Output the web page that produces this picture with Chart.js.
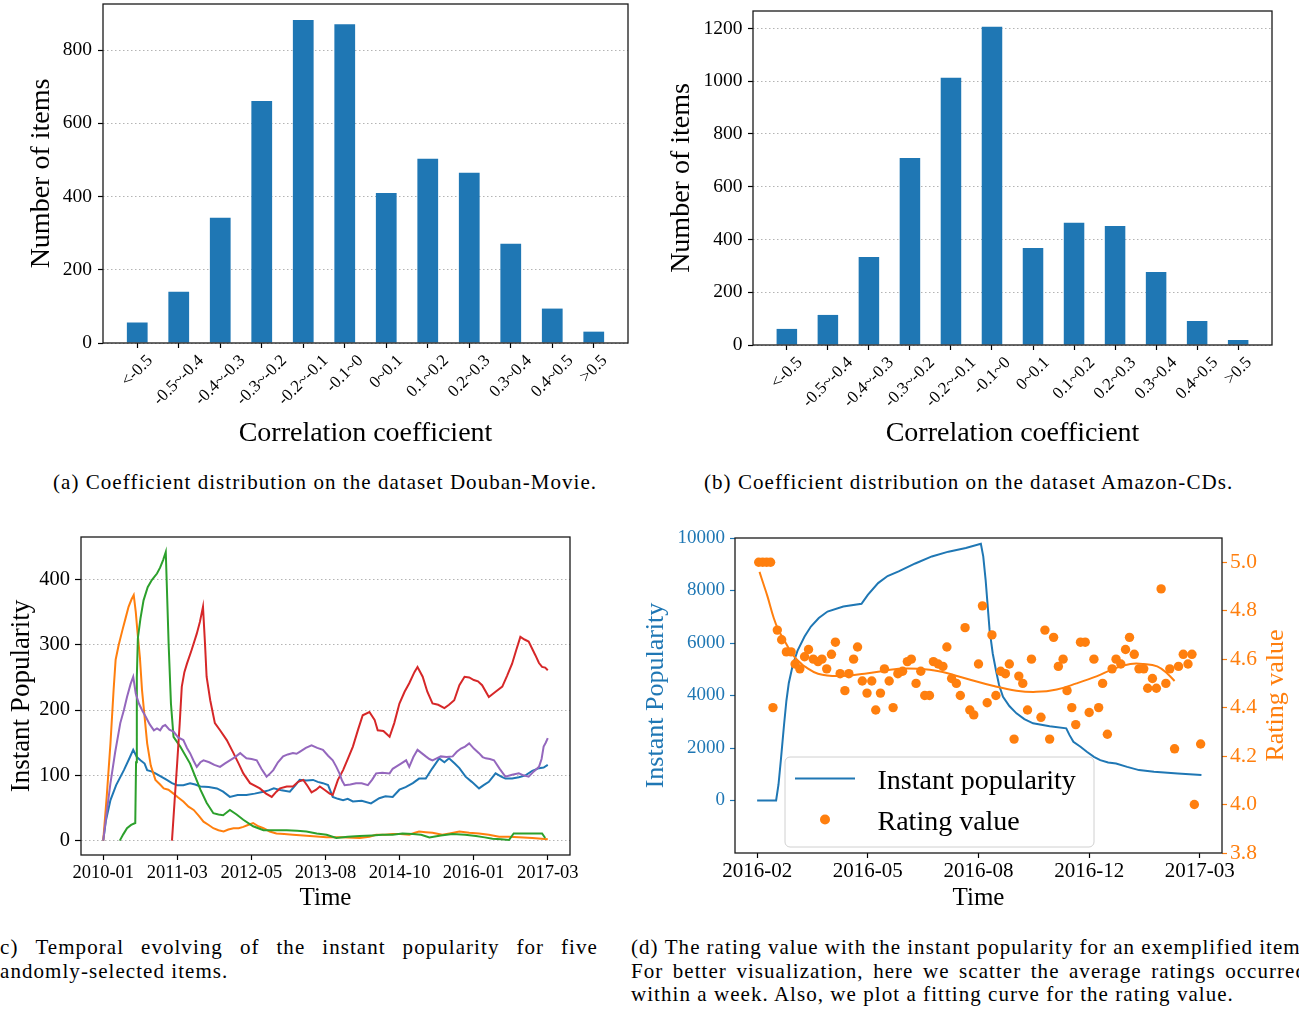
<!DOCTYPE html>
<html>
<head>
<meta charset="utf-8">
<title>Coefficient distribution and instant popularity</title>
<script src="https://cdn.jsdelivr.net/npm/chart.js@4.4.1/dist/chart.umd.min.js"></script>
<style>
  html, body { margin: 0; padding: 0; background: #fff; }
  body { position: relative; width: 1299px; height: 1011px; overflow: hidden;
         font-family: 'Liberation Serif', 'Times New Roman', serif; color: #000; }
  .panel { position: absolute; }
  .panel canvas { display: block; }
  .cap { position: absolute; font-size: 21px; line-height: 23.5px; letter-spacing: 1.05px; white-space: nowrap; }
  .jrow { display: flex; justify-content: space-between; }
</style>
</head>
<body>
<div class="panel" style="left:0;top:0"><canvas id="chartA" width="650" height="460"></canvas></div>
<div class="panel" style="left:650px;top:0"><canvas id="chartB" width="649" height="460"></canvas></div>
<div class="panel" style="left:0;top:500px"><canvas id="chartC" width="640" height="420"></canvas></div>
<div class="panel" style="left:640px;top:500px"><canvas id="chartD" width="659" height="420"></canvas></div>

<div class="cap" style="left:53px;top:471px">(a) Coefficient distribution on the dataset Douban-Movie.</div>
<div class="cap" style="left:704px;top:471px">(b) Coefficient distribution on the dataset Amazon-CDs.</div>
<div class="cap" id="capC" style="left:-8px;top:936px;width:606px"></div>
<div class="cap" id="capD" style="left:631px;top:936px;width:676px"></div>

<script>
const FONT = "'Liberation Serif', 'Times New Roman', serif";
const BLUE = '#1f77b4', ORANGE = '#ff7f0e', GREEN = '#2ca02c', RED = '#d62728', PURPLE = '#9467bd';

// (a), (b) histogram data
const binLabels = ['<-0.5', '-0.5~-0.4', '-0.4~-0.3', '-0.3~-0.2', '-0.2~-0.1', '-0.1~0',
                   '0~0.1', '0.1~0.2', '0.2~0.3', '0.3~0.4', '0.4~0.5', '>0.5'];
const doubanCounts = [56, 140, 342, 661, 882, 871, 410, 503, 465, 271, 94, 31];
const amazonCounts = [61, 114, 334, 709, 1013, 1206, 368, 463, 451, 277, 91, 19];
const doubanTicks = [0, 200, 400, 600, 800];
const amazonTicks = [0, 200, 400, 600, 800, 1000, 1200];

// (c) instant popularity of five items, [month since 2010-01, popularity]
const popTickLabels = ['2010-01', '2011-03', '2012-05', '2013-08', '2014-10', '2016-01', '2017-03'];
const popTicks = [0, 100, 200, 300, 400];
const item1 = [[0,0],[0.5,30],[1.4,62],[2.5,85],[4,108],[5,125],[5.8,139],[6.5,128],[7.2,123],[8,118],[8.5,108],[9.3,106],[10.1,103],[11.2,98],[12.3,93],[13.3,88],[14.3,85],[15.5,85],[16.8,88],[17.8,86],[18.8,83],[20.4,82],[22,80],[23.2,75],[24.5,67],[26,70],[27.7,70],[29.3,72],[31,75],[32,77],[33,80],[34.5,77],[36.1,75],[37.2,85],[38,93],[39.3,92],[40.6,93],[41.5,90],[42.5,88],[43.5,85],[44.4,67],[45.4,64],[46.4,62],[47.3,64],[48.3,60],[50,61],[51.8,57],[53.4,65],[54.6,68],[56,67],[57.3,78],[58.5,82],[59.9,88],[61.1,95],[62.4,95],[63.6,110],[65,126],[66,120],[66.9,126],[68,118],[68.9,111],[70.1,98],[71.3,90],[72.7,80],[73.6,85],[74.6,90],[75.9,103],[77,98],[77.8,95],[79.1,95],[80.4,97],[81.7,100],[83,107],[84.3,111],[85.2,112],[86,116]];
const item2 = [[0,0],[0.7,70],[1.4,149],[2,230],[2.4,277],[3,300],[3.7,322],[4.3,340],[4.9,358],[5.5,370],[5.9,376],[6.3,350],[6.6,322],[7.1,280],[7.5,231],[8,190],[8.5,149],[9.2,115],[10.1,93],[11,86],[11.7,80],[12.6,78],[13.6,72],[14.5,66],[15.5,60],[16.5,52],[17.5,47],[18.5,38],[19.4,29],[20.4,24],[21.3,19],[22.3,16],[23.3,14],[24.2,17],[25.2,19],[26.2,19],[27.1,21],[28,24],[29,27],[30,22],[31,19],[32.2,14],[33.5,11],[35,10],[36.7,9],[40,7],[43.2,5],[46,5],[49.6,4],[51.5,6],[52.8,9],[54.5,9],[56,10],[57.5,10],[59.2,9],[60.3,12],[61.1,14],[62.4,13],[63.7,12],[65.6,9],[67,11],[68.9,14],[70.8,12],[72.7,11],[74.6,9],[76.6,6],[78.5,6],[80.4,5],[83,4],[86,2]];
const item3 = [[3.2,0],[3.9,10],[4.6,19],[5.4,24],[6.2,27],[6.35,120],[6.5,250],[6.7,310],[7.2,340],[7.8,368],[8.6,388],[9.4,399],[10.4,409],[11,418],[11.6,430],[12.1,442],[12.65,302],[13.1,210],[13.6,159],[14.9,144],[16.8,118],[17.8,98],[18.8,78],[20,58],[21.3,42],[22.3,40],[23.2,39],[24.5,47],[25.8,40],[27.1,32],[29,22],[31,16],[33,16],[35.5,16],[37.5,15],[39.3,14],[41.3,11],[43.2,9],[45.1,4],[47.3,6],[49.6,7],[52,8],[54,9],[56,9],[57.9,11],[59.9,10],[61.5,9],[63.1,5],[65.3,8],[67.6,10],[70,9],[72.1,7],[73.8,5],[75.3,3],[77,2],[78.5,1],[79.4,11],[82,11],[84.9,11],[85.5,4]];
const item4 = [[13.3,0],[13.8,60],[14.3,118],[14.8,180],[15.2,236],[15.7,258],[16.2,271],[17.1,292],[18.1,317],[18.7,335],[19.3,358],[19.7,300],[20,251],[20.7,215],[21.6,180],[22.6,169],[23.9,154],[25.2,134],[26.2,118],[27.1,103],[28.4,88],[30.3,80],[31.5,72],[32.6,67],[33.5,75],[34.2,80],[35.5,83],[36.7,83],[37.7,90],[38.7,93],[39.5,84],[40.3,74],[41.2,78],[41.9,83],[42.8,78],[43.8,72],[44.4,70],[45.4,93],[46.4,108],[47.3,125],[48.3,144],[49.3,170],[50.2,192],[51.5,197],[52.5,185],[53.1,169],[54.2,168],[55.4,159],[56.3,180],[57.3,210],[58.3,228],[59.2,241],[60.2,258],[60.8,266],[61.8,251],[62.7,228],[63.7,210],[64.8,208],[66,203],[66.9,208],[67.9,215],[68.9,238],[69.9,251],[70.8,250],[71.7,246],[72.5,244],[73.3,238],[74.6,220],[75.9,228],[77.2,236],[78.1,252],[79.1,271],[79.9,292],[80.7,312],[81.5,308],[82.3,305],[83.6,284],[84.3,272],[84.9,266],[85.5,265],[86,261]];
const item5 = [[0,0],[0.7,45],[1.4,88],[2.3,135],[3.3,180],[4,200],[4.6,220],[5.3,240],[5.8,251],[6.3,225],[6.9,210],[7.5,200],[8.2,190],[9,178],[9.8,169],[10.4,172],[11,169],[11.5,175],[12,177],[12.8,170],[13.6,167],[14.5,158],[15.5,154],[16.2,142],[16.8,134],[17.5,122],[18.1,113],[18.8,120],[19.4,123],[20.5,120],[21.5,116],[22.6,113],[23.5,118],[24.5,123],[25.5,128],[26.5,134],[27.1,130],[27.7,126],[28.7,125],[29.7,123],[30.6,110],[31.6,98],[32.3,103],[32.9,108],[33.8,120],[34.8,129],[35.7,132],[36.7,134],[37.4,133],[38,136],[39.2,142],[40.3,146],[41.4,142],[42.5,139],[43.5,130],[44.4,123],[45.1,113],[45.7,103],[46.2,92],[46.7,85],[47.8,86],[48.9,88],[50,88],[51.2,85],[52,93],[52.8,103],[54,104],[55.4,103],[56,110],[56.6,113],[57.6,118],[58.6,123],[59.2,113],[60,128],[60.8,139],[61.6,134],[62.4,129],[63.1,125],[63.7,123],[64.5,126],[65.3,129],[66.4,128],[67.6,129],[68.4,136],[69.2,141],[70,144],[70.8,149],[71.7,141],[72.7,134],[73.4,128],[74,126],[74.8,125],[75.6,123],[76.7,110],[77.8,98],[79.1,101],[80.4,103],[81.3,100],[82.3,98],[83.3,106],[84.3,113],[84.8,125],[85.2,144],[85.6,150],[86,157]];

// (d) one item: [week since 2016-02, value]
const weekTickLabels = ['2016-02', '2016-05', '2016-08', '2016-12', '2017-03'];
const popularityTicks = [0, 2000, 4000, 6000, 8000, 10000];
const ratingTicks = [3.8, 4.0, 4.2, 4.4, 4.6, 4.8, 5.0];
const instantPopularity = [[0,0],[2.4,0],[2.7,600],[3.0,1540],[3.4,2875],[3.7,3800],[4.0,4466],[4.5,5150],[5.1,5700],[6.0,6250],[6.8,6626],[7.8,6950],[8.9,7198],[10.9,7390],[13.2,7492],[14.0,7836],[15.3,8282],[16.5,8550],[17.9,8726],[20,9030],[22.1,9298],[24.2,9480],[26.4,9618],[28.3,9782],[28.6,9300],[28.9,8408],[29.4,6500],[29.8,5600],[30.2,4973],[30.6,4400],[31.1,3954],[31.9,3600],[32.8,3321],[33.8,3100],[34.9,2939],[37,2830],[39.1,2748],[39.5,2500],[40.0,2239],[40.9,2046],[41.7,1857],[42.6,1664],[43.4,1539],[44.4,1450],[45.4,1412],[46.8,1280],[48.3,1158],[50.2,1094],[53.2,1030],[56.2,967]];
const weeklyRatings = [[0.2,5.0],[0.7,5.0],[1.2,5.0],[1.7,5.0],[2.0,4.40],[2.55,4.72],[3.1,4.68],[3.7,4.63],[4.3,4.63],[4.8,4.58],[5.4,4.56],[6.0,4.61],[6.5,4.64],[7.1,4.60],[7.7,4.59],[8.2,4.60],[8.8,4.56],[9.4,4.62],[9.9,4.67],[10.5,4.54],[11.1,4.47],[11.6,4.54],[12.2,4.60],[12.7,4.65],[13.3,4.51],[13.9,4.46],[14.5,4.51],[15.0,4.39],[15.6,4.46],[16.1,4.56],[16.7,4.51],[17.2,4.40],[17.8,4.54],[18.4,4.55],[19.0,4.59],[19.5,4.60],[20.1,4.50],[20.7,4.55],[21.2,4.45],[21.8,4.45],[22.3,4.59],[22.9,4.58],[23.5,4.57],[24.0,4.65],[24.6,4.52],[25.2,4.50],[25.7,4.45],[26.3,4.73],[26.9,4.39],[27.4,4.37],[28.0,4.58],[28.5,4.82],[29.1,4.42],[29.7,4.70],[30.2,4.45],[30.8,4.55],[31.4,4.54],[31.9,4.58],[32.5,4.27],[33.1,4.53],[33.6,4.50],[34.2,4.39],[34.7,4.60],[35.9,4.36],[36.4,4.72],[37.0,4.27],[37.5,4.69],[38.1,4.57],[38.7,4.60],[39.2,4.47],[39.8,4.40],[40.3,4.33],[40.9,4.67],[41.5,4.67],[42.0,4.38],[42.6,4.60],[43.2,4.40],[43.7,4.50],[44.3,4.29],[44.9,4.56],[45.4,4.60],[46.0,4.58],[46.6,4.64],[47.1,4.69],[47.7,4.62],[48.3,4.56],[48.9,4.56],[49.4,4.48],[50.0,4.52],[50.5,4.48],[51.1,4.89],[51.7,4.50],[52.2,4.56],[52.8,4.23],[53.3,4.57],[53.9,4.62],[54.5,4.58],[55.0,4.62],[55.3,4.0],[56.1,4.25]];
const ratingFit = [[0.3,4.96],[0.8,4.91],[1.3,4.86],[2.1,4.77],[2.7,4.72],[3.4,4.68],[4.0,4.645],[4.7,4.61],[5.3,4.59],[6.0,4.57],[7.7,4.54],[10.2,4.53],[13.6,4.54],[17.9,4.56],[20.4,4.56],[23,4.55],[26.4,4.52],[29.8,4.49],[32.8,4.47],[35.3,4.465],[37.9,4.475],[40.4,4.5],[43,4.53],[45.1,4.56],[47.2,4.58],[48.9,4.58],[50.6,4.57],[51.9,4.54],[52.8,4.51]];

const pts = (pairs) => pairs.map(([x, y]) => ({ x, y }));
const fixTicks = (values) => (scale) => { scale.ticks = values.map((v) => ({ value: v })); };
const font = (size) => ({ family: FONT, size });
const plain = (v) => String(v);
// fixed axis size, and no extra room for half tick labels
const fitY = (w) => (s) => { s.width = w; s.paddingTop = 0; s.paddingBottom = 0; };
const fitX = (h) => (s) => { s.height = h; s.paddingLeft = 0; s.paddingRight = 0; };

// spines all round, like matplotlib
const frameBox = {
  id: 'frameBox',
  afterDatasetsDraw(chart) {
    const { ctx, chartArea: a } = chart;
    ctx.save();
    ctx.strokeStyle = '#1a1a1a';
    ctx.lineWidth = 1.3;
    ctx.strokeRect(a.left, a.top, a.right - a.left, a.bottom - a.top);
    ctx.restore();
  },
};

// 45 degree tick labels centred under their tick
const slantLabels = {
  id: 'slantLabels',
  afterDraw(chart, args, opts) {
    const scale = chart.scales.x;
    const ctx = chart.ctx;
    ctx.save();
    ctx.font = opts.size + 'px ' + FONT;
    ctx.fillStyle = '#000';
    ctx.textAlign = 'center';
    ctx.textBaseline = 'middle';
    opts.labels.forEach((text, i) => {
      const w = ctx.measureText(text).width;
      const half = (w + opts.size) * Math.SQRT1_2 / 2;
      ctx.save();
      ctx.translate(scale.getPixelForValue(i), scale.top + opts.gap + half);
      ctx.rotate(-Math.PI / 4);
      ctx.fillText(text, 0, 0);
      ctx.restore();
    });
    ctx.restore();
  },
};

// right axis title reading bottom-to-top
const sideTitle = {
  id: 'sideTitle',
  afterDraw(chart, args, o) {
    const { ctx, chartArea: a } = chart;
    ctx.save();
    ctx.font = o.size + 'px ' + FONT;
    ctx.fillStyle = o.color;
    ctx.textAlign = 'center';
    ctx.textBaseline = 'middle';
    ctx.translate(a.right + o.dx, (a.top + a.bottom) / 2);
    ctx.rotate(-Math.PI / 2);
    ctx.fillText(o.text, 0, 0);
    ctx.restore();
  },
};

// framed legend inside the plot
const boxLegend = {
  id: 'boxLegend',
  afterDraw(chart, args, o) {
    const { ctx, chartArea: a } = chart;
    const ds = chart.data.datasets;
    const x = a.left + o.left, y = a.top + o.top;
    ctx.save();
    ctx.fillStyle = 'rgba(255,255,255,0.8)';
    ctx.strokeStyle = '#d0d0d0';
    ctx.lineWidth = 1;
    ctx.beginPath();
    ctx.roundRect(x, y, o.width, o.height, 5);
    ctx.fill();
    ctx.stroke();
    ctx.font = o.size + 'px ' + FONT;
    ctx.fillStyle = '#000';
    ctx.textBaseline = 'alphabetic';

    const line = ds[o.lineIndex];
    ctx.strokeStyle = line.borderColor;
    ctx.lineWidth = 2;
    ctx.beginPath();
    ctx.moveTo(x + 10, y + 21.5);
    ctx.lineTo(x + 70, y + 21.5);
    ctx.stroke();
    ctx.fillText(line.label, x + 92.5, y + 31.5);

    const dots = ds[o.dotIndex];
    ctx.fillStyle = dots.pointBackgroundColor;
    ctx.beginPath();
    ctx.arc(x + 40, y + 62.5, 5, 0, Math.PI * 2);
    ctx.fill();
    ctx.fillStyle = '#000';
    ctx.fillText(dots.label, x + 92.5, y + 72.5);
    ctx.restore();
  },
};

function histogram(id, counts, yMax, yTicks, g) {
  return new Chart(document.getElementById(id), {
    type: 'bar',
    data: {
      datasets: [{
        data: counts.map((v, i) => ({ x: i, y: v })),
        backgroundColor: BLUE,
        barPercentage: 0.5,
        categoryPercentage: 1,
      }],
    },
    options: {
      responsive: false,
      animation: false,
      devicePixelRatio: 1,
      layout: { padding: { top: g.top, right: g.right, left: 0, bottom: 0 } },
      plugins: {
        legend: { display: false },
        tooltip: { enabled: false },
        slantLabels: { labels: binLabels, size: 17, gap: 9 },
      },
      scales: {
        x: {
          type: 'linear', offset: false, min: -0.825, max: 11.825,
          afterBuildTicks: fixTicks(binLabels.map((_, i) => i)),
          afterFit: fitX(g.xh),
          ticks: { display: false },
          grid: { offset: false, drawOnChartArea: false, tickLength: 5, tickColor: '#000', tickWidth: 1.2 },
          border: { display: false },
          title: { display: true, text: 'Correlation coefficient', color: '#000', font: font(28), padding: { top: 0, bottom: 10 } },
        },
        y: {
          min: 0, max: yMax,
          afterBuildTicks: fixTicks(yTicks),
          afterFit: fitY(g.yw),
          ticks: { color: '#000', font: font(19.5), padding: g.tickPad, callback: plain },
          grid: { color: '#b4b4b4', lineWidth: 1, tickColor: '#000', tickLength: 5, tickWidth: 1.2, tickBorderDash: [] },
          border: { display: false, dash: [1.5, 2.5] },
          title: { display: true, text: 'Number of items', color: '#000', font: font(28), padding: { top: g.titlePad, bottom: 0 } },
        },
      },
    },
    plugins: [frameBox, slantLabels],
  });
}

histogram('chartA', doubanCounts, 926, doubanTicks, { top: 4, right: 22, xh: 117, yw: 103, tickPad: 6, titlePad: 25 });
histogram('chartB', amazonCounts, 1266, amazonTicks, { top: 11, right: 27, xh: 115, yw: 103, tickPad: 5.5, titlePad: 15 });

// (c)
const popSeries = [
  { data: item1, color: BLUE },
  { data: item2, color: ORANGE },
  { data: item3, color: GREEN },
  { data: item4, color: RED },
  { data: item5, color: PURPLE },
];
new Chart(document.getElementById('chartC'), {
  type: 'line',
  data: {
    datasets: popSeries.map((s, i) => ({
      data: pts(s.data),
      borderColor: s.color,
      borderWidth: 2,
      pointRadius: 0,
      tension: 0,
      order: popSeries.length - i,
    })),
  },
  options: {
    responsive: false,
    animation: false,
    devicePixelRatio: 1,
    layout: { padding: { top: 37, right: 70, left: 0, bottom: 0 } },
    plugins: { legend: { display: false }, tooltip: { enabled: false } },
    scales: {
      x: {
        type: 'linear', min: -4.3, max: 90.3,
        afterBuildTicks: fixTicks(popTickLabels.map((_, i) => i * 86 / (popTickLabels.length - 1))),
        afterFit: fitX(65),
        ticks: { color: '#000', font: font(18.5), padding: 2, maxRotation: 0, autoSkip: false, callback: (v, i) => popTickLabels[i] },
        grid: { drawOnChartArea: false, tickLength: 5, tickColor: '#000', tickWidth: 1.2 },
        border: { display: false },
        title: { display: true, text: 'Time', color: '#000', font: font(25), padding: { top: 0, bottom: 7 } },
      },
      y: {
        min: -22, max: 465,
        afterBuildTicks: fixTicks(popTicks),
        afterFit: fitY(81),
        ticks: { color: '#000', font: font(20.5), padding: 5, callback: plain },
        grid: { color: '#b4b4b4', lineWidth: 1, tickColor: '#000', tickLength: 6, tickWidth: 1.2, tickBorderDash: [] },
        border: { display: false, dash: [1.5, 2.5] },
        title: { display: true, text: 'Instant Popularity', color: '#000', font: font(27), padding: { top: 5.8, bottom: 0 } },
      },
    },
  },
  plugins: [frameBox],
});

// (d)
new Chart(document.getElementById('chartD'), {
  type: 'line',
  data: {
    datasets: [
      {
        label: 'Rating value',
        data: pts(weeklyRatings),
        yAxisID: 'y1',
        showLine: false,
        pointRadius: 4.7,
        pointBackgroundColor: ORANGE,
        pointBorderWidth: 0,
      },
      {
        label: 'Rating fit',
        data: pts(ratingFit),
        yAxisID: 'y1',
        borderColor: ORANGE,
        borderWidth: 2,
        pointRadius: 0,
        tension: 0.4,
      },
      {
        label: 'Instant popularity',
        data: pts(instantPopularity),
        yAxisID: 'y',
        borderColor: BLUE,
        borderWidth: 2,
        pointRadius: 0,
        tension: 0,
      },
    ],
  },
  options: {
    responsive: false,
    animation: false,
    devicePixelRatio: 1,
    layout: { padding: { top: 38, right: 0, left: 0, bottom: 0 } },
    plugins: {
      legend: { display: false },
      tooltip: { enabled: false },
      sideTitle: { text: 'Rating value', color: ORANGE, size: 26, dx: 54 },
      boxLegend: { left: 50, top: 219, width: 309, height: 90, size: 28, lineIndex: 2, dotIndex: 0 },
    },
    scales: {
      x: {
        type: 'linear', min: -2.8, max: 58.8,
        afterBuildTicks: fixTicks(weekTickLabels.map((_, i) => i * 14)),
        afterFit: fitX(67),
        ticks: { color: '#000', font: font(21), padding: 1, maxRotation: 0, autoSkip: false, callback: (v, i) => weekTickLabels[i] },
        grid: { drawOnChartArea: false, tickLength: 5, tickColor: '#000', tickWidth: 1.2 },
        border: { display: false },
        title: { display: true, text: 'Time', color: '#000', font: font(25), padding: { top: 0, bottom: 7 } },
      },
      y: {
        position: 'left',
        min: -2000, max: 10000,
        afterBuildTicks: fixTicks(popularityTicks),
        afterFit: fitY(95),
        ticks: { color: BLUE, font: font(19), padding: 5, callback: plain },
        grid: { drawOnChartArea: false, tickColor: BLUE, tickLength: 5, tickWidth: 1.2 },
        border: { display: false },
        title: { display: true, text: 'Instant Popularity', color: BLUE, font: font(26), padding: { top: 0.9, bottom: 0 } },
      },
      y1: {
        position: 'right',
        min: 3.8, max: 5.1,
        afterBuildTicks: fixTicks(ratingTicks),
        afterFit: fitY(77),
        ticks: { color: ORANGE, font: font(21.5), padding: 3, callback: (v) => v.toFixed(1) },
        grid: { drawOnChartArea: false, tickColor: ORANGE, tickLength: 5, tickWidth: 1.2 },
        border: { display: false },
      },
    },
  },
  plugins: [frameBox, sideTitle, boxLegend],
});

// justified captions, line breaks as in the figure
function captionLines(id, lines) {
  const box = document.getElementById(id);
  lines.forEach((line, i) => {
    const row = document.createElement('div');
    if (i < lines.length - 1) {
      row.className = 'jrow';
      line.split(' ').forEach((word) => {
        const s = document.createElement('span');
        s.textContent = word;
        row.appendChild(s);
      });
    } else {
      row.textContent = line;
    }
    box.appendChild(row);
  });
}
captionLines('capC', [
  '(c) Temporal evolving of the instant popularity for five',
  'randomly-selected items.',
]);
captionLines('capD', [
  '(d) The rating value with the instant popularity for an exemplified item.',
  'For better visualization, here we scatter the average ratings occurred',
  'within a week. Also, we plot a fitting curve for the rating value.',
]);
</script>
</body>
</html>
